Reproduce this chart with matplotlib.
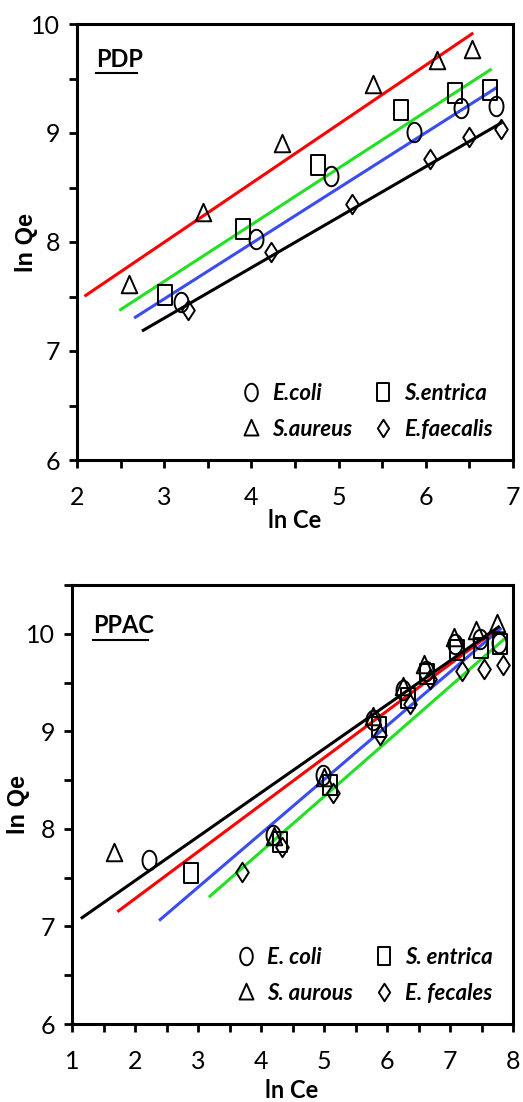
import matplotlib
matplotlib.use("Agg")
import matplotlib.pyplot as plt
import numpy as np
from matplotlib.path import Path
from matplotlib.ticker import MultipleLocator

FONT = ['Lato', 'DejaVu Sans']
plt.rcParams['font.family'] = FONT

# ---- PDP panel data ----
pdp_names = ['E.coli', 'S.entrica', 'S.aureus', 'E.faecalis']
pdp_ecoli_x = [3.19, 4.05, 4.91, 5.87, 6.40, 6.80]
pdp_ecoli_y = [7.45, 8.03, 8.61, 9.01, 9.23, 9.25]
pdp_sent_x = [3.01, 3.90, 4.76, 5.71, 6.34, 6.74]
pdp_sent_y = [7.51, 8.12, 8.71, 9.21, 9.37, 9.39]
pdp_saur_x = [2.60, 3.45, 4.35, 5.40, 6.13, 6.53]
pdp_saur_y = [7.61, 8.27, 8.90, 9.44, 9.66, 9.76]
pdp_efae_x = [3.27, 4.22, 5.15, 6.05, 6.50, 6.86]
pdp_efae_y = [7.38, 7.91, 8.35, 8.76, 8.96, 9.04]
# fitted lines (start/end)
pdp_fit_x = [[2.67, 6.80], [2.50, 6.74], [2.10, 6.53], [2.76, 6.86]]
pdp_fit_y = [[7.31, 9.41], [7.38, 9.58], [7.51, 9.91], [7.19, 9.09]]
pdp_fit_colors = ['#3a4cf2', '#22e022', '#ff0000', '#000000']

# ---- PPAC panel data ----
ppac_names = ['E. coli', 'S. entrica', 'S. aurous', 'E. fecales']
ppac_ecoli_x = [2.23, 4.19, 4.98, 5.78, 6.26, 6.62, 7.08, 7.47, 7.77]
ppac_ecoli_y = [7.68, 7.94, 8.55, 9.12, 9.42, 9.62, 9.90, 9.95, 9.91]
ppac_sent_x = [2.89, 4.30, 5.10, 5.87, 6.33, 6.64, 7.11, 7.49, 7.79]
ppac_sent_y = [7.55, 7.87, 8.45, 9.04, 9.34, 9.59, 9.83, 9.85, 9.90]
ppac_saur_x = [1.66, 4.21, 5.00, 5.78, 6.26, 6.59, 7.06, 7.42, 7.74]
ppac_saur_y = [7.75, 7.92, 8.52, 9.15, 9.45, 9.68, 9.96, 10.03, 10.10]
ppac_efae_x = [3.70, 4.33, 5.14, 5.89, 6.36, 6.69, 7.19, 7.54, 7.84]
ppac_efae_y = [7.56, 7.81, 8.37, 8.96, 9.28, 9.54, 9.62, 9.64, 9.68]
ppac_fit_x = [[1.74, 7.77], [2.40, 7.80], [1.16, 7.77], [3.19, 7.85]]
ppac_fit_y = [[7.16, 10.06], [7.07, 10.05], [7.09, 10.07], [7.31, 9.94]]
ppac_fit_colors = ['#ff0000', '#3a4cf2', '#000000', '#22e022']


# tall, narrow marker shapes (the original figure is stretched vertically)
def squeezed(verts, sx=0.72):
    v = np.array(verts, dtype=float)
    v[:, 0] *= sx
    return Path(v, closed=True)

t = np.linspace(0, 2 * np.pi, 60)
m_circle = squeezed(np.column_stack([np.cos(t), np.sin(t)]))
m_square = squeezed([[-1, -1], [1, -1], [1, 1], [-1, 1], [-1, -1]], 0.74)
m_tri = squeezed([[-1, -0.8], [1, -0.8], [0, 1], [-1, -0.8]], 0.8)
m_diam = squeezed([[0, -1], [0.9, 0], [0, 1], [-0.9, 0], [0, -1]], 0.72)


def panel(ax, title, names, xs, ys, fit_x, fit_y, fit_colors, xlim, ylim):
    markers = [m_circle, m_square, m_tri, m_diam]
    for fx, fy, c in zip(fit_x, fit_y, fit_colors):
        ax.plot(fx, fy, color=c, lw=2.2, zorder=2)
    handles = []
    for name, x, y, m in zip(names, xs, ys, markers):
        h, = ax.plot(x, y, ls='none', marker=m, ms=14, mfc='none', mec='black',
                     mew=1.4, label=name, zorder=3)
        handles.append(h)
    ax.set_xlim(xlim)
    ax.set_ylim(ylim)
    ax.xaxis.set_major_locator(MultipleLocator(1))
    ax.xaxis.set_minor_locator(MultipleLocator(0.5))
    ax.yaxis.set_major_locator(MultipleLocator(1))
    ax.yaxis.set_minor_locator(MultipleLocator(0.5))
    ax.tick_params(which='both', direction='out', length=6, width=2)
    ax.tick_params(axis='x', pad=13, labelsize=18)
    ax.tick_params(axis='y', pad=6, labelsize=18)
    for s in ax.spines.values():
        s.set_linewidth(2.2)
    # legend filled row by row: circle, square / triangle, diamond
    order = [0, 2, 1, 3]
    ax.legend([handles[i] for i in order], [names[i] for i in order],
              ncol=2, frameon=False, loc='lower right',
              bbox_to_anchor=(1.0, 0.0), handletextpad=0.45,
              columnspacing=0.9, labelspacing=0.68, handlelength=1.0,
              markerscale=0.9,
              prop={'family': FONT, 'size': 16, 'weight': 'bold',
                    'style': 'italic'})
    return ax.text(0, 0, title, transform=ax.transAxes, fontsize=17,
                   fontweight='bold', ha='left', va='top')


fig = plt.figure(figsize=(5.23, 11.02), dpi=100)

ax1 = fig.add_axes([77 / 523, 642 / 1102, 436 / 523, 436 / 1102])
t1 = panel(ax1, 'PDP', pdp_names,
           [pdp_ecoli_x, pdp_sent_x, pdp_saur_x, pdp_efae_x],
           [pdp_ecoli_y, pdp_sent_y, pdp_saur_y, pdp_efae_y],
           pdp_fit_x, pdp_fit_y, pdp_fit_colors, (2, 7), (6, 10))
t1.set_position((0.044, 0.945))
ax1.plot([0.044, 0.138], [0.888, 0.888], transform=ax1.transAxes,
         color='black', lw=1.5, clip_on=False)

ax2 = fig.add_axes([72 / 523, 78 / 1102, 441 / 523, 439 / 1102])
t2 = panel(ax2, 'PPAC', ppac_names,
           [ppac_ecoli_x, ppac_sent_x, ppac_saur_x, ppac_efae_x],
           [ppac_ecoli_y, ppac_sent_y, ppac_saur_y, ppac_efae_y],
           ppac_fit_x, ppac_fit_y, ppac_fit_colors, (1, 8), (6, 10.5))
t2.set_position((0.048, 0.935))
ax2.plot([0.048, 0.172], [0.875, 0.875], transform=ax2.transAxes,
         color='black', lw=1.5, clip_on=False)

# axis labels
lab = dict(ha='center', va='center')
arial = ['Liberation Sans', 'DejaVu Sans']
fig.text(26 / 523, 1 - 243 / 1102, 'ln Qe', rotation=90, fontsize=17,
         fontweight='bold', family=arial, **lab)
fig.text(18 / 523, 1 - 805 / 1102, 'ln Qe', rotation=90, fontsize=17,
         fontweight='bold', family=arial, **lab)
fig.text(295 / 523, 1 - 521 / 1102, 'ln Ce', fontsize=17,
         fontweight='bold', **lab)
fig.text(292 / 523, 1 - 1091 / 1102, 'ln Ce', fontsize=17,
         fontweight='bold', **lab)

fig.savefig('out.png', dpi=100)
